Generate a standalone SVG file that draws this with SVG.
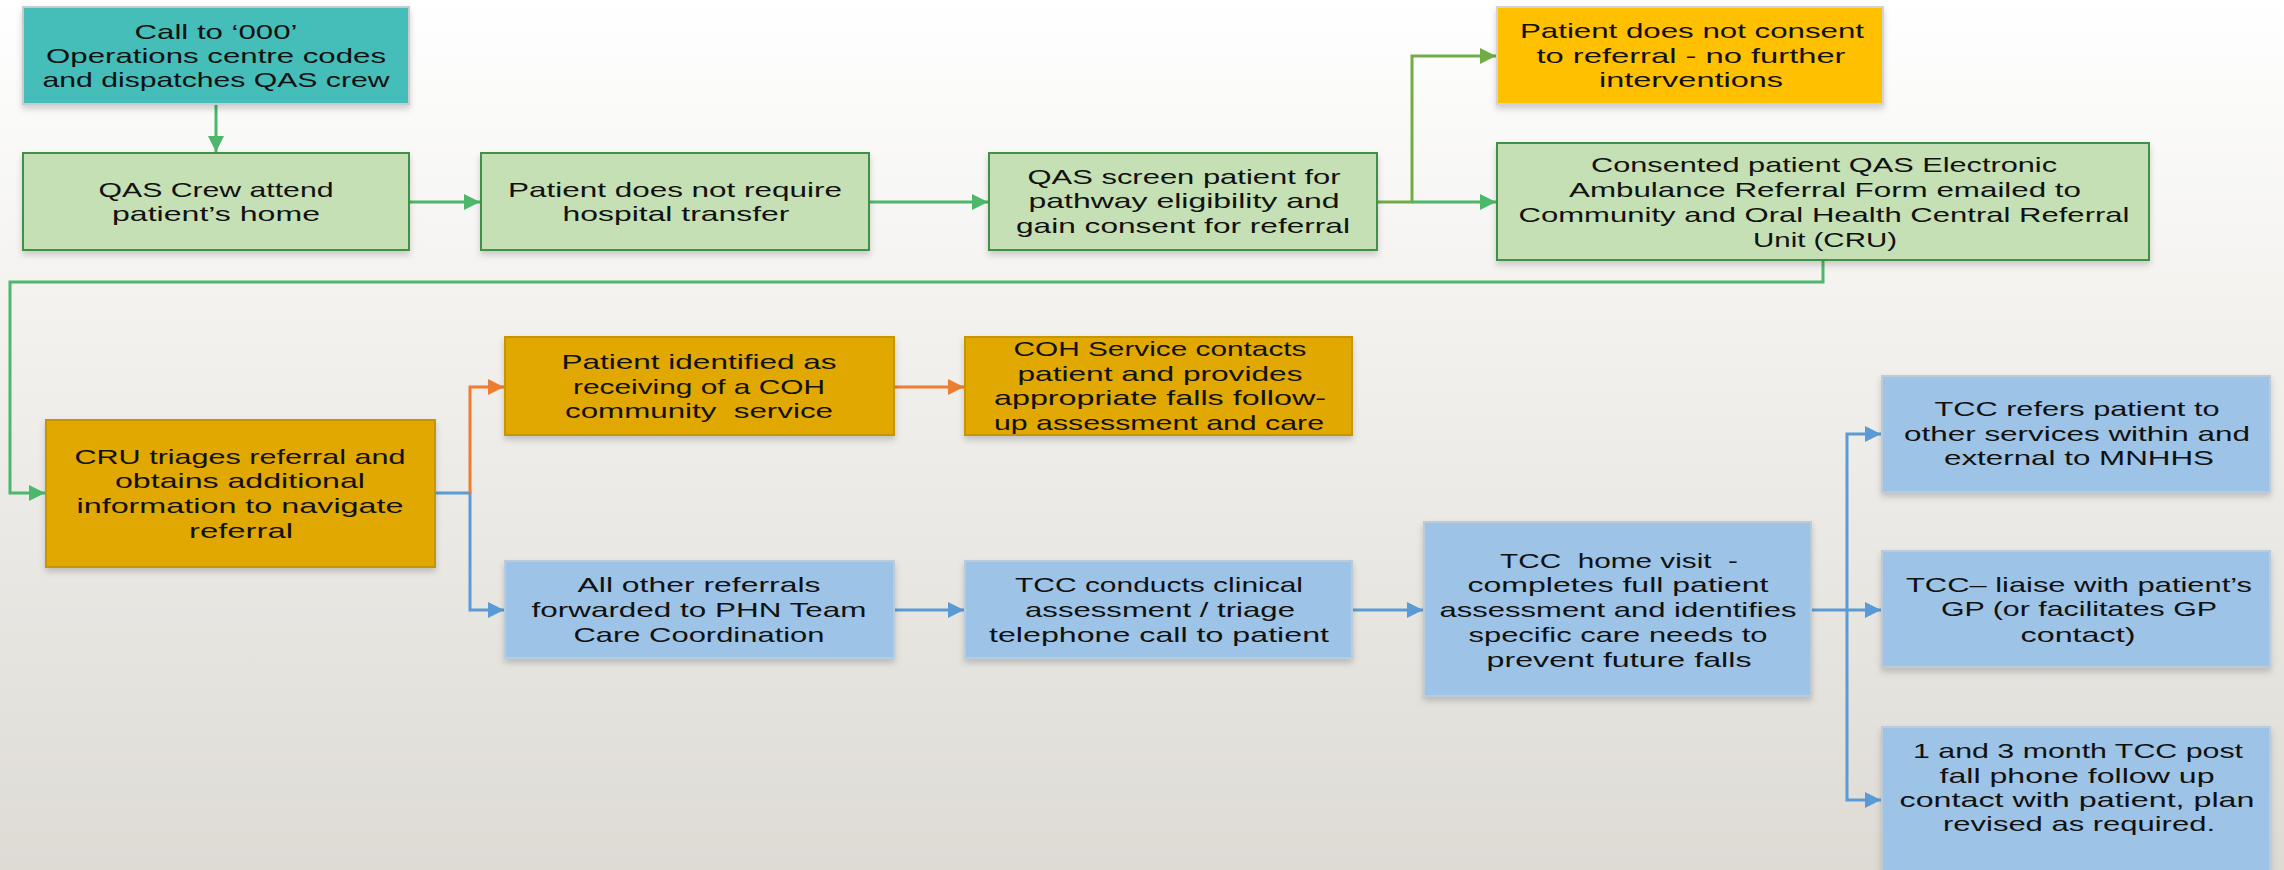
<svg xmlns="http://www.w3.org/2000/svg" width="2284" height="870" viewBox="0 0 2284 870">
<defs>
<linearGradient id="bg" x1="0" y1="0" x2="0" y2="1">
<stop offset="0" stop-color="#ffffff"/>
<stop offset="0.35" stop-color="#f3f2ef"/>
<stop offset="1" stop-color="#dedbd5"/>
</linearGradient>
<filter id="sh" x="-5%" y="-5%" width="110%" height="120%">
<feDropShadow dx="0" dy="4" stdDeviation="3" flood-color="#000" flood-opacity="0.18"/>
</filter>
<marker id="ag" viewBox="0 0 10 10" refX="10" refY="5" markerWidth="16" markerHeight="16" markerUnits="userSpaceOnUse" orient="auto"><path d="M0,0 L10,5 L0,10 Z" fill="#4db86b"/></marker>
<marker id="ag2" viewBox="0 0 10 10" refX="10" refY="5" markerWidth="16" markerHeight="16" markerUnits="userSpaceOnUse" orient="auto"><path d="M0,0 L10,5 L0,10 Z" fill="#70ad47"/></marker>
<marker id="ao" viewBox="0 0 10 10" refX="10" refY="5" markerWidth="16" markerHeight="16" markerUnits="userSpaceOnUse" orient="auto"><path d="M0,0 L10,5 L0,10 Z" fill="#ed7d31"/></marker>
<marker id="ab" viewBox="0 0 10 10" refX="10" refY="5" markerWidth="16" markerHeight="16" markerUnits="userSpaceOnUse" orient="auto"><path d="M0,0 L10,5 L0,10 Z" fill="#5b9bd5"/></marker>
</defs>
<style>
text{font-family:"Liberation Sans",Arial,sans-serif;font-size:21px;fill:#111;text-anchor:middle;white-space:pre}
.teal{fill:#44bdb9;stroke:#c9cccc;stroke-width:2;filter:url(#sh)}
.green{fill:#c5e0b4;stroke:#3f9146;stroke-width:2;filter:url(#sh)}
.yel{fill:#ffc000;stroke:#d3d3d3;stroke-width:2;filter:url(#sh)}
.mus{fill:#e0a800;stroke:#c79500;stroke-width:2;filter:url(#sh)}
.blue{fill:#9dc3e6;stroke:#bccbda;stroke-width:2;filter:url(#sh)}
.cg{fill:none;stroke:#4db86b;stroke-width:3}
.cg2{fill:none;stroke:#70ad47;stroke-width:3}
.co{fill:none;stroke:#ed7d31;stroke-width:3}
.cb{fill:none;stroke:#5b9bd5;stroke-width:3}
</style>
<rect x="0" y="0" width="2284" height="870" fill="url(#bg)"/>

<g id="connectors">
<path class="cg" d="M216,104 V152" marker-end="url(#ag)"/>
<path class="cg" d="M409,202 H480" marker-end="url(#ag)"/>
<path class="cg" d="M869,202 H988" marker-end="url(#ag)"/>
<path class="cg2" d="M1377,202 H1412 V56 H1496" marker-end="url(#ag2)"/>
<path class="cg" d="M1412,202 H1496" marker-end="url(#ag)"/>
<path class="cg" d="M1823,260 V282 H10 V493 H45" marker-end="url(#ag)"/>
<path class="cb" d="M435,493 H470 V610 H504" marker-end="url(#ab)"/>
<path class="co" d="M470,493 V387 H504" marker-end="url(#ao)"/>
<path class="co" d="M894,387 H964" marker-end="url(#ao)"/>
<path class="cb" d="M894,610 H964" marker-end="url(#ab)"/>
<path class="cb" d="M1352,610 H1423" marker-end="url(#ab)"/>
<path class="cb" d="M1811,610 H1881" marker-end="url(#ab)"/>
<path class="cb" d="M1847,610 V434 H1881" marker-end="url(#ab)"/>
<path class="cb" d="M1847,610 V800 H1881" marker-end="url(#ab)"/>
</g>

<g id="call000">
<rect class="teal" x="23" y="7" width="386" height="97"/>
<text x="216" y="39" textLength="163" lengthAdjust="spacingAndGlyphs">Call to ‘000’</text>
<text x="216" y="63" textLength="340" lengthAdjust="spacingAndGlyphs">Operations centre codes</text>
<text x="216" y="87" textLength="347" lengthAdjust="spacingAndGlyphs">and dispatches QAS crew</text>
</g>

<g id="crewAttend">
<rect class="green" x="23" y="153" width="386" height="97"/>
<text x="216" y="197" textLength="235" lengthAdjust="spacingAndGlyphs">QAS Crew attend</text>
<text x="216" y="221" textLength="208" lengthAdjust="spacingAndGlyphs">patient’s home</text>
</g>

<g id="noTransfer">
<rect class="green" x="481" y="153" width="388" height="97"/>
<text x="675" y="197" textLength="334" lengthAdjust="spacingAndGlyphs">Patient does not require</text>
<text x="676" y="221" textLength="227" lengthAdjust="spacingAndGlyphs">hospital transfer</text>
</g>

<g id="qasScreen">
<rect class="green" x="989" y="153" width="388" height="97"/>
<text x="1184" y="184" textLength="313" lengthAdjust="spacingAndGlyphs">QAS screen patient for</text>
<text x="1184" y="208" textLength="311" lengthAdjust="spacingAndGlyphs">pathway eligibility and</text>
<text x="1183" y="233" textLength="334" lengthAdjust="spacingAndGlyphs">gain consent for referral</text>
</g>

<g id="noConsent">
<rect class="yel" x="1497" y="7" width="386" height="97"/>
<text x="1692" y="38" textLength="344" lengthAdjust="spacingAndGlyphs">Patient does not consent</text>
<text x="1691" y="63" textLength="309" lengthAdjust="spacingAndGlyphs">to referral - no further</text>
<text x="1691" y="87" textLength="184" lengthAdjust="spacingAndGlyphs">interventions</text>
</g>

<g id="consented">
<rect class="green" x="1497" y="143" width="652" height="117"/>
<text x="1824" y="172" textLength="466" lengthAdjust="spacingAndGlyphs">Consented patient QAS Electronic</text>
<text x="1825" y="197" textLength="512" lengthAdjust="spacingAndGlyphs">Ambulance Referral Form emailed to</text>
<text x="1824" y="222" textLength="611" lengthAdjust="spacingAndGlyphs">Community and Oral Health Central Referral</text>
<text x="1825" y="247" textLength="144" lengthAdjust="spacingAndGlyphs">Unit (CRU)</text>
</g>

<g id="cruTriage">
<rect class="mus" x="46" y="420" width="389" height="147"/>
<text x="240" y="464" textLength="331" lengthAdjust="spacingAndGlyphs">CRU triages referral and</text>
<text x="240" y="488" textLength="250" lengthAdjust="spacingAndGlyphs">obtains additional</text>
<text x="240" y="513" textLength="327" lengthAdjust="spacingAndGlyphs">information to navigate</text>
<text x="241" y="538" textLength="104" lengthAdjust="spacingAndGlyphs">referral</text>
</g>

<g id="cohIdentified">
<rect class="mus" x="505" y="337" width="389" height="98"/>
<text x="699" y="369" textLength="275" lengthAdjust="spacingAndGlyphs">Patient identified as</text>
<text x="699" y="394" textLength="252" lengthAdjust="spacingAndGlyphs">receiving of a COH</text>
<text x="699" y="418" textLength="268" lengthAdjust="spacingAndGlyphs">community  service</text>
</g>

<g id="cohService">
<rect class="mus" x="965" y="337" width="387" height="98"/>
<text x="1160" y="356" textLength="293" lengthAdjust="spacingAndGlyphs">COH Service contacts</text>
<text x="1160" y="381" textLength="285" lengthAdjust="spacingAndGlyphs">patient and provides</text>
<text x="1160" y="405" textLength="332" lengthAdjust="spacingAndGlyphs">appropriate falls follow-</text>
<text x="1159" y="430" textLength="330" lengthAdjust="spacingAndGlyphs">up assessment and care</text>
</g>

<g id="otherReferrals">
<rect class="blue" x="505" y="561" width="389" height="97"/>
<text x="699" y="592" textLength="243" lengthAdjust="spacingAndGlyphs">All other referrals</text>
<text x="699" y="617" textLength="335" lengthAdjust="spacingAndGlyphs">forwarded to PHN Team</text>
<text x="699" y="642" textLength="251" lengthAdjust="spacingAndGlyphs">Care Coordination</text>
</g>

<g id="tccConducts">
<rect class="blue" x="965" y="561" width="387" height="97"/>
<text x="1159" y="592" textLength="288" lengthAdjust="spacingAndGlyphs">TCC conducts clinical</text>
<text x="1160" y="617" textLength="270" lengthAdjust="spacingAndGlyphs">assessment / triage</text>
<text x="1159" y="642" textLength="340" lengthAdjust="spacingAndGlyphs">telephone call to patient</text>
</g>

<g id="homeVisit">
<rect class="blue" x="1424" y="522" width="387" height="174"/>
<text x="1619" y="568" textLength="238" lengthAdjust="spacingAndGlyphs">TCC  home visit  -</text>
<text x="1618" y="592" textLength="301" lengthAdjust="spacingAndGlyphs">completes full patient</text>
<text x="1618" y="617" textLength="357" lengthAdjust="spacingAndGlyphs">assessment and identifies</text>
<text x="1618" y="642" textLength="299" lengthAdjust="spacingAndGlyphs">specific care needs to</text>
<text x="1619" y="667" textLength="265" lengthAdjust="spacingAndGlyphs">prevent future falls</text>
</g>

<g id="tccRefers">
<rect class="blue" x="1882" y="376" width="388" height="116"/>
<text x="2077" y="416" textLength="285" lengthAdjust="spacingAndGlyphs">TCC refers patient to</text>
<text x="2077" y="441" textLength="346" lengthAdjust="spacingAndGlyphs">other services within and</text>
<text x="2079" y="465" textLength="270" lengthAdjust="spacingAndGlyphs">external to MNHHS</text>
</g>

<g id="tccLiaise">
<rect class="blue" x="1882" y="551" width="388" height="116"/>
<text x="2079" y="592" textLength="346" lengthAdjust="spacingAndGlyphs">TCC– liaise with patient’s</text>
<text x="2079" y="616" textLength="276" lengthAdjust="spacingAndGlyphs">GP (or facilitates GP</text>
<text x="2078" y="642" textLength="115" lengthAdjust="spacingAndGlyphs">contact)</text>
</g>

<g id="followUp">
<rect class="blue" x="1882" y="727" width="388" height="160"/>
<text x="2078" y="758" textLength="330" lengthAdjust="spacingAndGlyphs">1 and 3 month TCC post</text>
<text x="2077" y="783" textLength="275" lengthAdjust="spacingAndGlyphs">fall phone follow up</text>
<text x="2077" y="807" textLength="355" lengthAdjust="spacingAndGlyphs">contact with patient, plan</text>
<text x="2079" y="831" textLength="272" lengthAdjust="spacingAndGlyphs">revised as required.</text>
</g>
</svg>
